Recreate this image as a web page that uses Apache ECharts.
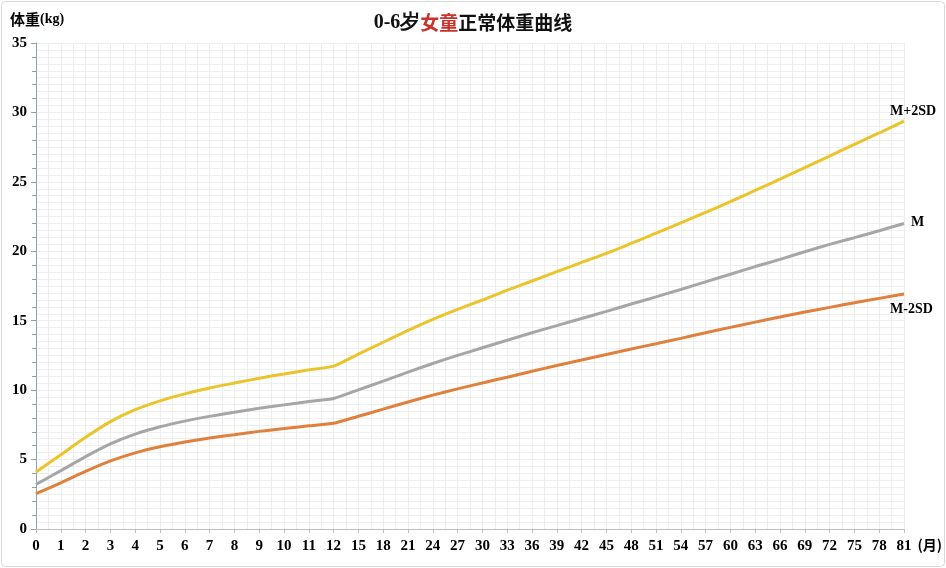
<!DOCTYPE html>
<html>
<head>
<meta charset="utf-8">
<script src="https://cdn.jsdelivr.net/npm/echarts@6/dist/echarts.min.js"></script>
<style>
html,body{margin:0;padding:0;background:#fff;}
#c{width:946px;height:568px;}
</style>
</head>
<body>
<div id="c"></div>
<script>
// Ages in months (category axis)
const months = ['0','1','2','3','4','5','6','7','8','9','10','11','12',
  '15','18','21','24','27','30','33','36','39','42','45','48','51','54','57','60','63','66','69','72','75','78','81'];

// Weight (kg) curves
const plus2SD = [4.10,5.35,6.60,7.73,8.59,9.23,9.73,10.15,10.51,10.86,11.16,11.46,11.73,
  12.60,13.45,14.30,15.10,15.82,16.49,17.20,17.86,18.53,19.20,19.85,20.57,21.30,22.05,22.80,23.57,24.38,25.20,26.03,26.86,27.70,28.52,29.38];
const median = [3.21,4.20,5.21,6.13,6.83,7.36,7.77,8.11,8.41,8.69,8.94,9.18,9.40,
  10.02,10.65,11.30,11.92,12.50,13.05,13.59,14.13,14.65,15.16,15.67,16.20,16.72,17.25,17.80,18.35,18.90,19.42,19.97,20.50,20.98,21.48,22.00];
const minus2SD = [2.54,3.33,4.15,4.90,5.48,5.92,6.26,6.55,6.79,7.03,7.23,7.43,7.61,
  8.12,8.63,9.15,9.64,10.09,10.52,10.93,11.36,11.77,12.17,12.57,12.96,13.34,13.73,14.13,14.52,14.90,15.27,15.63,15.96,16.29,16.61,16.93];

const seriesNames = ['M+2SD','M','M-2SD'];
const titleMain = '0-6岁';
const titleRed = '女童';
const titleTail = '正常体重曲线';

const serif = '"Liberation Serif","Times New Roman",serif';
const cjk = '"Noto Sans CJK SC","Liberation Serif",sans-serif';

const chart = echarts.init(document.getElementById('c'));
const n = months.length - 1;

function mkSeries(name, data, color, offset) {
  return {
    name: name, type: 'line', data: data,
    xAxisIndex: 0, yAxisIndex: 0,
    smooth: 0.2, symbol: 'none',
    lineStyle: {color: color, width: 3},
    itemStyle: {color: color},
    z: 5,
    endLabel: {
      show: true, formatter: name, offset: offset,
      color: '#000', fontFamily: serif, fontWeight: 'bold', fontSize: 14
    }
  };
}

chart.setOption({
  animation: false,
  backgroundColor: '#fff',
  title: {
    text: '{a|' + titleMain + '}{r|' + titleRed + '}{b|' + titleTail + '}',
    left: 'center', top: 8,
    textStyle: {
      rich: {
        a: {fontFamily: serif, fontWeight: 'bold', fontSize: 20, color: '#111'},
        r: {fontFamily: cjk, fontWeight: 'bold', fontSize: 19, color: '#C8332B'},
        b: {fontFamily: cjk, fontWeight: 'bold', fontSize: 19, color: '#111'}
      }
    }
  },
  graphic: [{
    type: 'rect', shape: {x: 1.5, y: 1.5, width: 943, height: 565, r: 4},
    style: {fill: 'none', stroke: '#D9D9D9', lineWidth: 1}, z: -10
  }],
  grid: {left: 36, right: 42, top: 43, bottom: 39, containLabel: false, show: false},
  xAxis: [{
    type: 'category', data: months, boundaryGap: false,
    name: '(月)', nameLocation: 'end', nameGap: 8,
    nameTextStyle: {fontFamily: cjk, fontWeight: 'bold', fontSize: 14, color: '#000', verticalAlign: 'top', padding: [9, 0, 0, 0]},
    axisLine: {show: true, lineStyle: {color: '#BFBFBF', width: 1}},
    axisTick: {show: true, length: 4, interval: 0, lineStyle: {color: '#BFBFBF'}},
    axisLabel: {interval: 0, margin: 10, fontFamily: serif, fontWeight: 'bold', fontSize: 15, color: '#000'},
    splitLine: {show: true, interval: 0, lineStyle: {color: '#CFCFCF', width: 1}}
  }, {
    type: 'value', min: 0, max: n, interval: 0.5, show: true,
    position: 'bottom',
    axisLine: {show: false}, axisTick: {show: false}, axisLabel: {show: false},
    splitLine: {show: true, lineStyle: {color: '#EDEDED', width: 1}}
  }],
  yAxis: [{
    type: 'value', min: 0, max: 35, interval: 5,
    name: '{c|体重}{k|(kg)}', nameLocation: 'end', nameGap: 16,
    nameTextStyle: {
      align: 'left', padding: [0, 0, 0, -26],
      rich: {
        c: {fontFamily: cjk, fontWeight: 'bold', fontSize: 15, color: '#000'},
        k: {fontFamily: serif, fontWeight: 'bold', fontSize: 14, color: '#000'}
      }
    },
    axisLine: {show: true, lineStyle: {color: '#8FA3AB', width: 1}},
    axisTick: {show: true, length: 5, lineStyle: {color: '#8FA3AB'}},
    minorTick: {show: true, splitNumber: 5, length: 4, lineStyle: {color: '#8FA3AB'}},
    axisLabel: {margin: 9, fontFamily: serif, fontWeight: 'bold', fontSize: 15, color: '#000'},
    splitLine: {show: true, lineStyle: {color: '#CFCFCF', width: 1}},
    minorSplitLine: {show: true, lineStyle: {color: '#DEDEDE', width: 1}}
  }, {
    type: 'value', min: 0, max: 35, interval: 0.5, position: 'left',
    axisLine: {show: false}, axisTick: {show: false}, axisLabel: {show: false},
    splitLine: {show: true, lineStyle: {color: '#EFEFEF', width: 1}}
  }],
  series: [
    mkSeries(seriesNames[0], plus2SD, '#EBC42C', [-22, -10]),
    mkSeries(seriesNames[1], median, '#A6A6A6', [-1, -1]),
    mkSeries(seriesNames[2], minus2SD, '#E0803C', [-22, 15])
  ]
});
</script>
</body>
</html>
